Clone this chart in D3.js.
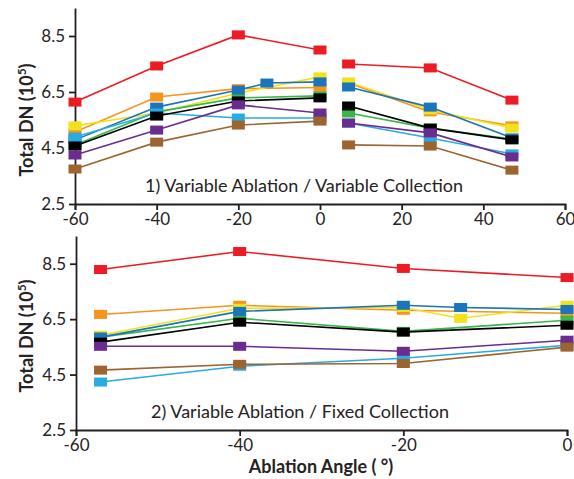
<!doctype html>
<html>
<head>
<meta charset="utf-8">
<script src="https://d3js.org/d3.v7.min.js"></script>
<style>
  body { margin: 0; background: #fff; }
  svg text { font-family: Lato, "Liberation Sans", sans-serif; fill: #262223; }
  .axis path, .axis line { stroke: #231f20; stroke-width: 1.8; }
  .axis text { font-size: 17px; }
</style>
</head>
<body>
<svg width="574" height="479"></svg>
<script>
// series names + colours (same order in both panels)
var seriesNames = ["red", "orange", "yellow", "green", "blue", "lightblue", "black", "purple", "brown"];
var seriesColors = ["#ed1c24", "#f7941d", "#f2e21a", "#39b54a", "#1b75bc", "#29abe2", "#000000", "#6a2c91", "#9c6530"];

var yTicks = [2.5, 4.5, 6.5, 8.5];

// panel 1: variable ablation / variable collection (two segments)
var top1Angles = [-60, -40, -20, 0];
var top1BlueAngles = [-60, -40, -20, -13, 0];
var top2Angles = [7, 27, 47];
var top1Values = {
  red:       [6.14, 7.43, 8.54, 8.0],
  orange:    [5.07, 6.32, 6.62, 6.66],
  yellow:    [5.29, 5.75, 6.46, 7.04],
  green:     [4.61, 5.79, 6.29, 6.36],
  blue:      [4.79, 5.96, 6.57, 6.82, 6.86],
  lightblue: [4.89, 5.75, 5.57, 5.57],
  black:     [4.57, 5.64, 6.18, 6.29],
  purple:    [4.25, 5.14, 6.04, 5.75],
  brown:     [3.75, 4.71, 5.32, 5.46]
};
var top2Values = {
  red:       [7.5, 7.36, 6.21],
  orange:    [6.82, 5.79, 5.29],
  yellow:    [6.86, 5.86, 5.21],
  green:     [5.75, 5.21, 4.82],
  blue:      [6.68, 5.96, 4.86],
  lightblue: [5.39, 4.86, 4.29],
  black:     [6.0, 5.21, 4.79],
  purple:    [5.39, 5.04, 4.18],
  brown:     [4.61, 4.57, 3.71]
};

// panel 2: variable ablation / fixed collection
var bottomAngles = [-57, -40, -20, 0];
var bottomExtraAngles = [-57, -40, -20, -13, 0];
var bottomValues = {
  red:       [8.29, 8.94, 8.33, 8.0],
  orange:    [6.67, 7.0, 6.82, 6.71],
  yellow:    [5.92, 6.89, 6.92, 6.53, 7.0],
  green:     [5.85, 6.53, 6.06, 6.46],
  blue:      [5.85, 6.78, 7.0, 6.92, 6.85],
  lightblue: [4.23, 4.8, 5.09, 5.56],
  black:     [5.67, 6.39, 6.03, 6.28],
  purple:    [5.52, 5.52, 5.34, 5.74],
  brown:     [4.66, 4.87, 4.9, 5.49]
};

var svg = d3.select("svg");

function drawPanel(opt) {
  var x = d3.scaleLinear().domain(opt.xDomain).range([opt.left, opt.right]);
  var y = d3.scaleLinear().domain([2.5, 9.5]).range([opt.bottom, opt.top]);
  var g = svg.append("g");

  // plain hyphen for negatives, like the original
  g.append("g").attr("class", "axis")
    .attr("transform", "translate(0," + opt.bottom + ")")
    .call(d3.axisBottom(x).tickValues(opt.xTicks).tickFormat(function(d) { return String(d); })
      .tickSize(6).tickSizeOuter(6).tickPadding(3));

  g.append("g").attr("class", "axis")
    .attr("transform", "translate(" + opt.left + ",0)")
    .call(d3.axisLeft(y).tickValues(yTicks).tickFormat(d3.format(".1f")).tickSize(6).tickSizeOuter(0).tickPadding(4));

  // y title
  var yt = g.append("text")
    .attr("transform", "translate(" + 33 + "," + opt.yTitleMid + ") rotate(-90)")
    .attr("text-anchor", "middle")
    .attr("font-size", "18px").attr("font-weight", "bold");
  yt.append("tspan").text("Total DN (10");
  yt.append("tspan").attr("dy", -7).attr("font-size", "12px").text("5");
  yt.append("tspan").attr("dy", 7).text(")");

  g.append("text").attr("x", opt.titleX).attr("y", opt.titleY)
    .attr("text-anchor", "middle").attr("font-size", "18px")
    .text(opt.title);

  var line = d3.line().x(function(d) { return x(d[0]); }).y(function(d) { return y(d[1]); });

  seriesNames.forEach(function(name, i) {
    opt.segments.forEach(function(seg) {
      var vals = seg.values[name];
      var xs = vals.length === seg.angles.length ? seg.angles : seg.extraAngles;
      var pts = vals.map(function(v, j) { return [xs[j], v]; });
      g.append("path").datum(pts)
        .attr("d", line).attr("fill", "none")
        .attr("stroke", seriesColors[i]).attr("stroke-width", 1.6);
      g.selectAll(null).data(pts).enter().append("rect")
        .attr("x", function(d) { return x(d[0]) - 6.5; })
        .attr("y", function(d) { return y(d[1]) - 4.5; })
        .attr("width", 13).attr("height", 9)
        .attr("fill", seriesColors[i]);
    });
  });
}

drawPanel({
  left: 75, right: 565, top: 8, bottom: 204,
  xDomain: [-60, 60], xTicks: [-60, -40, -20, 0, 20, 40, 60],
  yTitleMid: 120,
  title: "1) Variable Ablation / Variable Collection", titleX: 304, titleY: 192,
  segments: [
    { angles: top1Angles, extraAngles: top1BlueAngles, values: top1Values },
    { angles: top2Angles, extraAngles: top2Angles, values: top2Values }
  ]
});

drawPanel({
  left: 76, right: 567, top: 236, bottom: 430,
  xDomain: [-60, 0], xTicks: [-60, -40, -20, 0],
  yTitleMid: 336,
  title: "2) Variable Ablation / Fixed Collection", titleX: 300, titleY: 418,
  segments: [
    { angles: bottomAngles, extraAngles: bottomExtraAngles, values: bottomValues }
  ]
});

svg.append("text").attr("x", 321).attr("y", 473)
  .attr("text-anchor", "middle").attr("font-size", "18px").attr("font-weight", "bold")
  .text("Ablation Angle ( °)");
</script>
</body>
</html>
